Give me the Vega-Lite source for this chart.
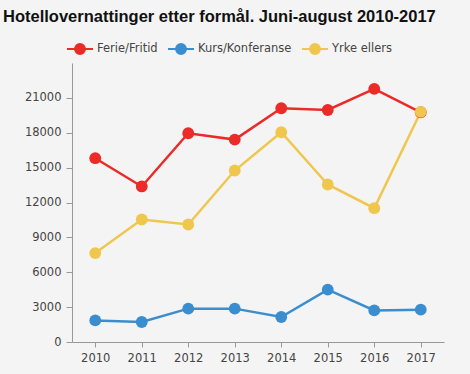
{
  "$schema": "https://vega.github.io/schema/vega-lite/v6.json",
  "width": 372,
  "height": 279,
  "autosize": {"type": "none"},
  "padding": {"left": 72, "top": 63, "right": 26, "bottom": 32},
  "background": "#f4f4f4",
  "title": {
    "text": "Hotellovernattinger etter formål. Juni-august 2010-2017",
    "anchor": "start",
    "frame": "group",
    "dx": -69,
    "offset": 10,
    "font": "Liberation Sans",
    "fontSize": 16.5,
    "fontWeight": "bold",
    "color": "#111111"
  },
  "data": {
    "values": [
      {"year": "2010", "serie": "Ferie/Fritid", "value": 15810},
      {"year": "2011", "serie": "Ferie/Fritid", "value": 13380},
      {"year": "2012", "serie": "Ferie/Fritid", "value": 17960},
      {"year": "2013", "serie": "Ferie/Fritid", "value": 17410},
      {"year": "2014", "serie": "Ferie/Fritid", "value": 20110},
      {"year": "2015", "serie": "Ferie/Fritid", "value": 19960},
      {"year": "2016", "serie": "Ferie/Fritid", "value": 21770},
      {"year": "2017", "serie": "Ferie/Fritid", "value": 19760},
      {"year": "2010", "serie": "Kurs/Konferanse", "value": 1860},
      {"year": "2011", "serie": "Kurs/Konferanse", "value": 1720},
      {"year": "2012", "serie": "Kurs/Konferanse", "value": 2870},
      {"year": "2013", "serie": "Kurs/Konferanse", "value": 2870},
      {"year": "2014", "serie": "Kurs/Konferanse", "value": 2150},
      {"year": "2015", "serie": "Kurs/Konferanse", "value": 4500},
      {"year": "2016", "serie": "Kurs/Konferanse", "value": 2720},
      {"year": "2017", "serie": "Kurs/Konferanse", "value": 2780},
      {"year": "2010", "serie": "Yrke ellers", "value": 7650},
      {"year": "2011", "serie": "Yrke ellers", "value": 10540},
      {"year": "2012", "serie": "Yrke ellers", "value": 10110},
      {"year": "2013", "serie": "Yrke ellers", "value": 14750},
      {"year": "2014", "serie": "Yrke ellers", "value": 18040},
      {"year": "2015", "serie": "Yrke ellers", "value": 13550},
      {"year": "2016", "serie": "Yrke ellers", "value": 11510},
      {"year": "2017", "serie": "Yrke ellers", "value": 19800}
    ]
  },
  "encoding": {
    "x": {
      "field": "year",
      "type": "ordinal",
      "scale": {"type": "point", "padding": 0.5},
      "axis": {
        "title": null,
        "labelAngle": 0,
        "labelPadding": 5,
        "domainColor": "#999999",
        "tickColor": "#999999",
        "tickSize": 5,
        "labelFont": "DejaVu Sans",
        "labelFontSize": 11.5,
        "labelColor": "#444444",
        "grid": false
      }
    },
    "y": {
      "field": "value",
      "type": "quantitative",
      "scale": {"domain": [0, 24000], "nice": false},
      "axis": {
        "title": null,
        "values": [0, 3000, 6000, 9000, 12000, 15000, 18000, 21000],
        "format": "d",
        "labelPadding": 5,
        "domainColor": "#999999",
        "tickColor": "#999999",
        "tickSize": 6,
        "labelFont": "DejaVu Sans",
        "labelFontSize": 11.5,
        "labelColor": "#444444",
        "grid": false
      }
    },
    "color": {
      "field": "serie",
      "type": "nominal",
      "scale": {
        "domain": ["Ferie/Fritid", "Kurs/Konferanse", "Yrke ellers"],
        "range": ["#ec2a28", "#3a8ecf", "#efc74e"]
      },
      "legend": {
        "title": null,
        "orient": "none",
        "direction": "horizontal",
        "legendX": -6,
        "legendY": -28,
        "symbolType": "M-1,0H-0.38M0.38,0H1M0.38,0A0.38,0.38 0 1,1 -0.38,0A0.38,0.38 0 1,1 0.38,0Z",
        "symbolSize": 676,
        "symbolStrokeWidth": 2,
        "symbolFillColor": null,
        "symbolOpacity": 1,
        "labelFont": "DejaVu Sans",
        "labelFontSize": 11.5,
        "labelColor": "#444444",
        "labelOffset": 3,
        "columnPadding": 6
      }
    }
  },
  "layer": [
    {"mark": {"type": "line", "strokeWidth": 2.5}},
    {"mark": {"type": "point", "filled": true, "opacity": 1, "size": 140}}
  ],
  "config": {
    "view": {"stroke": null}
  }
}
